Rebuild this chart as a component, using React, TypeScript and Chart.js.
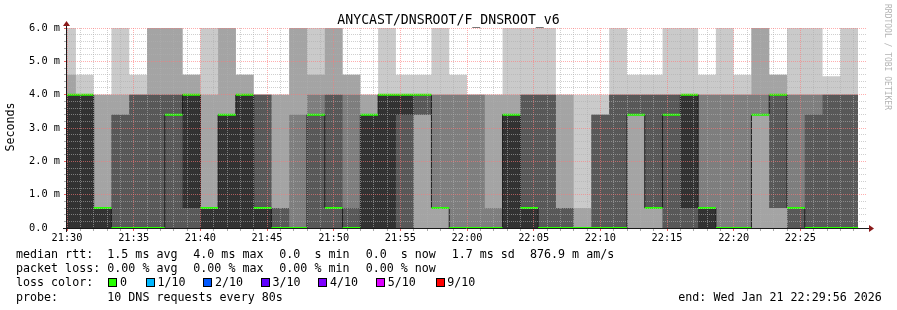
import React, { useEffect, useRef } from 'react';
import { Chart, registerables } from 'chart.js';

Chart.register(...registerables);

// ---------- text ----------
const TITLE = 'ANYCAST/DNSROOT/F_DNSROOT_v6';
const Y_UNIT_LABEL = 'Seconds';
const WATERMARK = 'RRDTOOL / TOBI OETIKER';

// ---------- time axis (seconds after 21:30:00) ----------
const START_HOUR = 21;
const START_MINUTE = 30;
const X_MIN = 0;
const X_MAX = 3600;
const STEP_SECONDS = 80;
const FIRST_STEP_START = -40;
const DATA_END = 3560;

// ---------- sorted ping RTTs (ms) for each 80 s step, rank 1 (lowest) .. rank 10 (highest) ----------
const ping1 = [0, 0, 0, 0, 0, 0, 0, 0, 0, 0, 0, 0, 0, 0, 0, 0, 0, 0, 0, 0, 0, 0, 0, 0, 0, 0, 0, 0, 0, 0, 0, 0, 0, 0, 0, 0, 0, 0, 0, 0, 0, 0, 0, 0, 0];
const ping2 = [0, 0, 0, 0, 0, 0, 0, 0, 0, 0, 0, 0, 0, 0, 0, 0, 0, 0, 0, 0, 0, 0, 0, 0, 0, 0, 0, 0, 0, 0, 0, 0, 0, 0, 0, 0, 0, 0, 0, 0, 0, 0, 0, 0, 0];
const ping3 = [0, 0, 0, 0, 0, 0, 0, 0, 0, 0, 0, 0, 0, 0, 0, 0, 0, 0, 0, 0, 3.4, 0.6, 0, 0, 0, 0, 0, 0, 0, 0, 0, 0, 3.4, 0.6, 0, 0, 0, 0, 0, 3.4, 0.6, 0, 0, 0, 0];
const ping4 = [0, 0, 0, 0, 0, 0, 0, 0, 0, 0, 0, 0, 0, 0, 0, 0, 0, 0, 0, 0, 3.4, 0.6, 0, 0, 0, 0, 0, 0, 0, 0, 0, 0, 3.4, 0.6, 0, 0, 0, 0, 0, 3.4, 0.6, 0, 0, 0, 0];
const ping5 = [0, 0, 0, 0, 0, 0, 3.4, 0.6, 0, 0, 0, 0, 0, 0, 3.4, 0.6, 0, 0, 0, 3.4, 4.0, 0.6, 0, 0, 0, 0, 0, 0, 0, 0, 0, 0, 3.4, 0.6, 3.4, 0.6, 0, 0, 0, 3.4, 4.0, 0.6, 0, 0, 0];
const ping6 = [4.0, 4.0, 0.6, 0, 0, 0, 3.4, 4.0, 0.6, 3.4, 4.0, 0.6, 0, 0, 3.4, 0.6, 0, 3.4, 4.0, 4.0, 4.0, 0.6, 0, 0, 0, 3.4, 0.6, 0, 0, 0, 0, 0, 3.4, 0.6, 3.4, 4.0, 0.6, 0, 0, 3.4, 4.0, 0.6, 0, 0, 0];
const ping7 = [4.0, 4.0, 0.6, 3.4, 4.0, 4.0, 4.0, 4.0, 0.6, 3.4, 4.0, 4.0, 0.6, 0, 3.4, 4.0, 0.6, 3.4, 4.0, 4.0, 4.0, 0.6, 0, 0, 0, 3.4, 4.0, 4.0, 0.6, 0, 3.4, 4.0, 4.0, 4.0, 4.0, 4.0, 0.6, 0, 0, 3.4, 4.0, 0.6, 3.4, 4.0, 4.0];
const ping8 = [4.0, 4.0, 0.6, 3.4, 4.0, 4.0, 4.0, 4.0, 0.6, 3.4, 4.0, 4.0, 0.6, 3.4, 4.0, 4.0, 4.0, 3.4, 4.0, 4.0, 4.0, 4.0, 4.0, 4.0, 0.6, 3.4, 4.0, 4.0, 0.6, 0, 3.4, 4.0, 4.0, 4.0, 4.0, 4.0, 4.0, 4.0, 4.0, 4.0, 4.0, 4.0, 4.0, 4.0, 4.0];
const ping9 = [4.6, 4.0, 4.0, 4.0, 4.0, 6.0, 6.0, 4.6, 4.0, 6.0, 4.6, 4.0, 4.0, 6.0, 4.6, 6.0, 4.6, 4.0, 4.0, 4.0, 4.0, 4.0, 4.0, 4.0, 4.0, 4.0, 4.0, 4.0, 4.0, 0.6, 3.4, 4.0, 4.0, 4.0, 4.0, 4.0, 4.0, 4.0, 4.0, 6.0, 4.6, 4.0, 4.0, 4.0, 4.0];
const ping10 = [6.0, 4.6, 4.0, 6.0, 4.6, 6.0, 6.0, 4.6, 6.0, 6.0, 4.6, 4.0, 4.0, 6.0, 6.0, 6.0, 4.6, 4.0, 6.0, 4.6, 4.6, 6.0, 4.6, 4.0, 4.0, 6.0, 6.0, 6.0, 4.0, 4.0, 4.0, 6.0, 4.6, 4.6, 6.0, 6.0, 4.6, 6.0, 4.6, 6.0, 4.6, 6.0, 6.0, 4.55, 6.0];
const medianRtt = ping6;

// ---------- legend text ----------
const statsRtt = ['median rtt:', '1.5 ms avg', '4.0 ms max', '0.0  s min', '0.0  s now', '1.7 ms sd', '876.9 m am/s'];
const statsLoss = ['packet loss:', '0.00 % avg', '0.00 % max', '0.00 % min', '0.00 % now'];
const lossHeading = 'loss color:';
const lossLabels = ['0', '1/10', '2/10', '3/10', '4/10', '5/10', '9/10'];
const lossColors = ['#26ff00', '#00b8ff', '#0059ff', '#5e00ff', '#7e00ff', '#dd00ff', '#ff0000'];
const probeText = ['probe:', '10 DNS requests every 80s'];
const endText = 'end: Wed Jan 21 22:29:56 2026';

// ---------- styles ----------
const BAND_COLORS = ['#cacaca', '#a4a4a4', '#7e7e7e', '#585858', '#323232'];
const MEDIAN_COLOR = '#1e1e1e';
const GRID_COLOR = 'rgba(175,175,175,0.6)';
const MGRID_COLOR = 'rgba(255,120,120,0.6)';
const MONO = "'DejaVu Sans Mono', monospace";

const ranks = [ping1, ping2, ping3, ping4, ping5, ping6, ping7, ping8, ping9, ping10];
const stepStarts = ping1.map((_, i) => FIRST_STEP_START + i * STEP_SECONDS);

function stepSeries(values: number[]) {
  const pts = values.map((v, i) => ({ x: stepStarts[i], y: v }));
  pts.push({ x: DATA_END, y: values[values.length - 1] });
  return pts;
}

function medianSegments(values: number[]) {
  const pts: { x: number; y: number | null }[] = [];
  values.forEach((v, i) => {
    const end = i + 1 < stepStarts.length ? stepStarts[i + 1] : DATA_END;
    pts.push({ x: stepStarts[i], y: v });
    pts.push({ x: end, y: v });
    pts.push({ x: end, y: null });
  });
  return pts;
}

function timeLabel(sec: number) {
  const total = START_HOUR * 60 + START_MINUTE + Math.round(sec / 60);
  const h = Math.floor(total / 60) % 24;
  const m = total % 60;
  return `${String(h).padStart(2, '0')}:${String(m).padStart(2, '0')}`;
}

const decorPlugin = {
  id: 'smokepingDecor',
  afterDraw(chart: any) {
    const ctx = chart.ctx as CanvasRenderingContext2D;
    const { left, right, top, bottom } = chart.chartArea;
    ctx.save();
    // axes
    ctx.strokeStyle = '#1a1a1a';
    ctx.lineWidth = 1;
    ctx.beginPath();
    ctx.moveTo(left - 4, bottom + 0.5);
    ctx.lineTo(right + 3, bottom + 0.5);
    ctx.stroke();
    ctx.beginPath();
    ctx.moveTo(left - 0.5, bottom + 4);
    ctx.lineTo(left - 0.5, top - 3);
    ctx.stroke();
    ctx.fillStyle = '#8b1a1a';
    ctx.beginPath();
    ctx.moveTo(right + 2, bottom - 3);
    ctx.lineTo(right + 2, bottom + 4);
    ctx.lineTo(right + 7, bottom + 0.5);
    ctx.closePath();
    ctx.fill();
    ctx.beginPath();
    ctx.moveTo(left - 4, top - 2);
    ctx.lineTo(left + 3, top - 2);
    ctx.lineTo(left - 0.5, top - 7);
    ctx.closePath();
    ctx.fill();

    // title
    ctx.fillStyle = '#000';
    ctx.font = `13.2px ${MONO}`;
    ctx.textAlign = 'center';
    ctx.textBaseline = 'alphabetic';
    ctx.fillText(TITLE, 448.5, 24);

    // unit label
    ctx.save();
    ctx.font = `11.66px ${MONO}`;
    ctx.translate(11, (top + bottom) / 2 - 1);
    ctx.rotate(-Math.PI / 2);
    ctx.textAlign = 'center';
    ctx.textBaseline = 'middle';
    ctx.fillText(Y_UNIT_LABEL, 0, 0);
    ctx.restore();

    // watermark
    ctx.save();
    ctx.font = `8px ${MONO}`;
    ctx.fillStyle = '#b4b4b4';
    ctx.translate(887, 4);
    ctx.rotate(Math.PI / 2);
    ctx.textAlign = 'left';
    ctx.textBaseline = 'middle';
    ctx.fillText(WATERMARK, 0, 0);
    ctx.restore();

    // legend
    ctx.font = `11.66px ${MONO}`;
    ctx.textAlign = 'left';
    ctx.textBaseline = 'alphabetic';
    ctx.fillStyle = '#000';
    const cols = [16, 107.3, 193.3, 279.3, 365.7, 451.7, 530];
    const rowY = [258, 272.2, 286.4, 300.6];
    statsRtt.forEach((t, i) => ctx.fillText(t, cols[i], rowY[0]));
    statsLoss.forEach((t, i) => ctx.fillText(t, cols[i], rowY[1]));
    ctx.fillText(lossHeading, cols[0], rowY[2]);
    const boxX = [108.3, 145.7, 203.3, 260.7, 318.3, 376, 435.5];
    lossLabels.forEach((t, i) => {
      const bx = Math.round(boxX[i]);
      ctx.fillStyle = lossColors[i];
      ctx.fillRect(bx, 278, 9, 9);
      ctx.strokeStyle = '#000';
      ctx.strokeRect(bx + 0.5, 278.5, 8, 8);
      ctx.fillStyle = '#000';
      ctx.fillText(t, boxX[i] + 11.7, rowY[2]);
    });
    ctx.fillText(probeText[0], cols[0], rowY[3]);
    ctx.fillText(probeText[1], cols[1], rowY[3]);
    ctx.fillText(endText, 678.3, rowY[3]);
    ctx.restore();
  },
};

export default function App() {
  const canvasRef = useRef<HTMLCanvasElement | null>(null);

  useEffect(() => {
    document.body.style.margin = '0';
    const canvas = canvasRef.current;
    if (!canvas) return;

    const datasets: any[] = [];
    // lower boundaries (ranks 1..5), invisible
    for (let i = 0; i < 5; i++) {
      datasets.push({
        label: `ping${i + 1}`,
        data: stepSeries(ranks[i]),
        stepped: true,
        borderColor: 'rgba(0,0,0,0)',
        borderWidth: 1,
        pointRadius: 0,
        fill: false,
        order: 20,
      });
    }
    // upper boundaries (ranks 6..10), each filled down to its mirror rank
    for (let j = 5; j < 10; j++) {
      const band = 9 - j; // 4 for rank6 (innermost) .. 0 for rank10 (outermost)
      datasets.push({
        label: `ping${j + 1}`,
        data: stepSeries(ranks[j]),
        stepped: true,
        borderColor: 'rgba(0,0,0,0)',
        borderWidth: 1,
        pointRadius: 0,
        fill: 9 - j,
        backgroundColor: BAND_COLORS[4 - band === 4 ? 4 : 4 - band],
        order: 6 + (j - 5),
      });
    }
    // fix band colours: rank6 -> darkest, rank10 -> lightest
    for (let j = 5; j < 10; j++) {
      datasets[j].backgroundColor = BAND_COLORS[9 - j];
    }
    datasets.push({
      label: 'median',
      data: stepSeries(medianRtt),
      stepped: true,
      borderColor: MEDIAN_COLOR,
      borderWidth: 1,
      pointRadius: 0,
      fill: false,
      order: 1,
    });
    datasets.push({
      label: 'loss 0',
      data: medianSegments(medianRtt),
      borderColor: lossColors[0],
      borderWidth: 2,
      borderCapStyle: 'butt',
      pointRadius: 0,
      fill: false,
      spanGaps: false,
      order: 0,
    });

    const chart = new Chart(canvas, {
      type: 'line',
      data: { datasets },
      options: {
        responsive: false,
        maintainAspectRatio: false,
        devicePixelRatio: 1,
        animation: false,
        events: [],
        layout: { padding: { left: 0, right: 30, top: 28, bottom: 52 } },
        plugins: {
          legend: { display: false },
          tooltip: { enabled: false },
          title: { display: false },
        },
        scales: {
          x: {
            type: 'linear',
            min: X_MIN,
            max: X_MAX,
            afterFit: (scale: any) => {
              scale.height = 30;
            },
            border: { display: false, dash: [1, 1] },
            grid: {
              z: 1,
              lineWidth: 1,
              drawTicks: true,
              tickLength: 3,
              color: (c: any) => {
                const v = c.tick ? c.tick.value : 0;
                if (v >= X_MAX) return 'rgba(0,0,0,0)';
                return v % 300 === 0 ? MGRID_COLOR : GRID_COLOR;
              },
              tickColor: (c: any) => {
                const v = c.tick ? c.tick.value : 0;
                if (v >= X_MAX) return 'rgba(0,0,0,0)';
                return v % 300 === 0 ? 'rgba(230,80,80,0.9)' : 'rgba(150,150,150,0.8)';
              },
            },
            ticks: {
              stepSize: 60,
              autoSkip: false,
              maxRotation: 0,
              minRotation: 0,
              padding: 1,
              color: '#000',
              font: { family: MONO, size: 10.3 },
              callback: (v: any) => {
                const n = Number(v);
                return n % 300 === 0 && n < X_MAX ? timeLabel(n) : '';
              },
            },
          },
          y: {
            type: 'linear',
            min: 0,
            max: 6,
            afterFit: (scale: any) => {
              scale.width = 67;
            },
            border: { display: false, dash: [1, 1] },
            grid: {
              z: 1,
              lineWidth: 1,
              drawTicks: true,
              tickLength: 3,
              color: (c: any) => {
                const v = c.tick ? c.tick.value : 0;
                return Math.abs(v - Math.round(v)) < 1e-6 ? MGRID_COLOR : GRID_COLOR;
              },
              tickColor: (c: any) => {
                const v = c.tick ? c.tick.value : 0;
                return Math.abs(v - Math.round(v)) < 1e-6 ? 'rgba(230,80,80,0.9)' : 'rgba(150,150,150,0.8)';
              },
            },
            ticks: {
              stepSize: 0.2,
              autoSkip: false,
              padding: 4,
              color: '#000',
              font: { family: MONO, size: 10.3 },
              callback: (v: any) => {
                const n = Number(v);
                if (Math.abs(n - Math.round(n)) > 1e-6) return '';
                return n === 0 ? '0.0  ' : `${n.toFixed(1)} m`;
              },
            },
          },
        },
      },
      plugins: [decorPlugin],
    });

    return () => {
      chart.destroy();
    };
  }, []);

  return (
    <div style={{ width: 897, height: 310, background: '#fff' }}>
      <canvas ref={canvasRef} width={897} height={310} style={{ display: 'block' }} />
    </div>
  );
}
